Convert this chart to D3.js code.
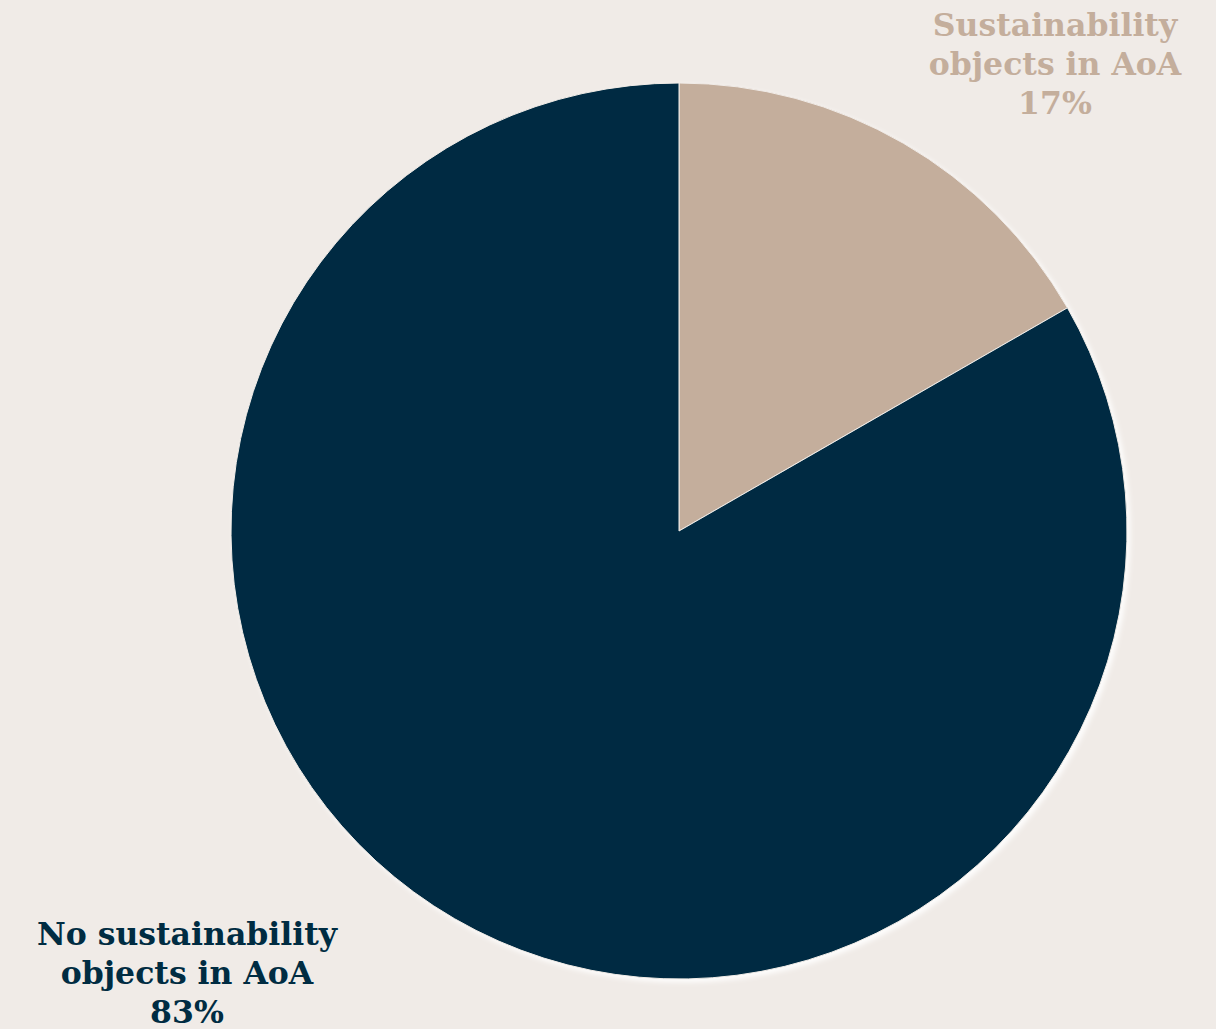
<!DOCTYPE html>
<html><head><meta charset="utf-8">
<script src="https://cdn.jsdelivr.net/npm/d3@7"></script>
<style>html,body{margin:0;padding:0;background:#F0EBE7;}svg{display:block;}</style>
</head><body>
<script>
const categories = ["Sustainability objects in AoA", "No sustainability objects in AoA"];
const labelLines = [["Sustainability", "objects in AoA"], ["No sustainability", "objects in AoA"]];
const values = [16.7, 83.3];
const percentLabels = ["17%", "83%"];
const colors = ["#C4AE9C", "#002C42"];

const W = 1216, H = 1029;
const cx = 679, cy = 531, R = 448;
const svg = d3.select("body").append("svg").attr("width", W).attr("height", H);
svg.append("rect").attr("width", W).attr("height", H).attr("fill", "#F0EBE7");

const defs = svg.append("defs");
const f = defs.append("filter").attr("id","sh").attr("x","-10%").attr("y","-10%").attr("width","120%").attr("height","120%");
f.append("feGaussianBlur").attr("in","SourceAlpha").attr("stdDeviation",2.5).attr("result","b");
f.append("feOffset").attr("in","b").attr("dx",3).attr("dy",3).attr("result","o");
f.append("feFlood").attr("flood-color","#ffffff").attr("flood-opacity",0.9);
f.append("feComposite").attr("in2","o").attr("operator","in").attr("result","s");
const m = f.append("feMerge");
m.append("feMergeNode").attr("in","s");
m.append("feMergeNode").attr("in","SourceGraphic");

const pie = d3.pie().sort(null).value(d => d)(values);
const arc = d3.arc().innerRadius(0).outerRadius(R);
const g = svg.append("g").attr("transform", `translate(${cx},${cy})`).attr("filter","url(#sh)");
g.selectAll("path").data(pie).join("path")
  .attr("d", arc).attr("fill", (d,i) => colors[i])
  .attr("stroke", "#F0EBE7").attr("stroke-width", 1).attr("stroke-linejoin","round");

const labelPos = [{x:1055, y:36}, {x:187, y:945}];
const lh = 39;
labelPos.forEach((p, i) => {
  const t = svg.append("text").attr("x", p.x).attr("y", p.y)
    .attr("text-anchor","middle").attr("fill", colors[i])
    .attr("font-family","'DejaVu Serif', serif").attr("font-weight","bold").attr("font-size", 31.5);
  const lines = labelLines[i].concat([percentLabels[i]]);
  lines.forEach((l, j) => t.append("tspan").attr("x", p.x).attr("y", p.y + j*lh).text(l));
});
</script>
</body></html>
